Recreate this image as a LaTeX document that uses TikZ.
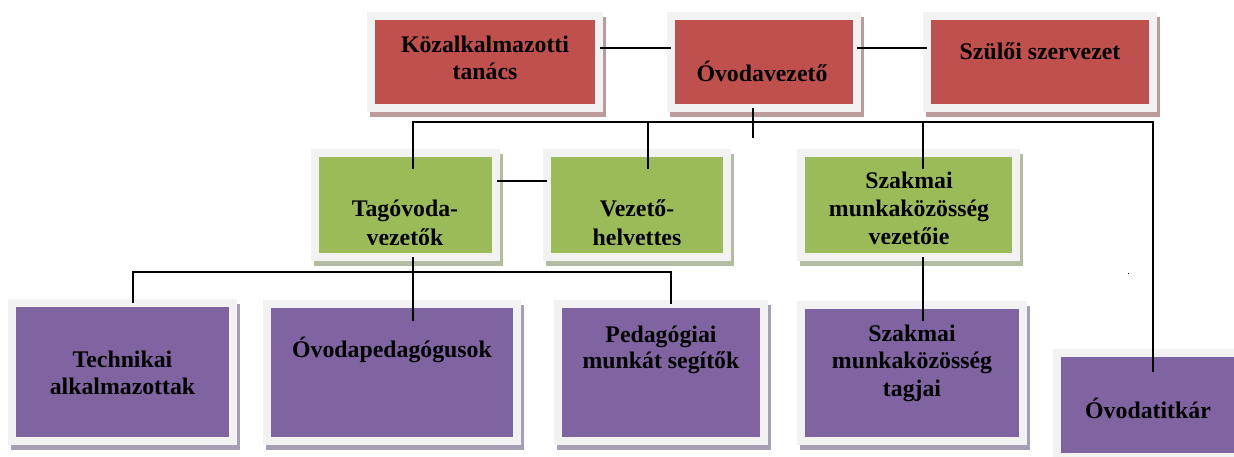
\documentclass[tikz,border=0pt]{standalone}
\usepackage{fontspec}
\setmainfont{Liberation Serif}
\usetikzlibrary{calc}
\definecolor{redfill}{RGB}{192,80,77}
\definecolor{greenfill}{RGB}{155,187,89}
\definecolor{purplefill}{RGB}{128,100,162}
\definecolor{framecol}{RGB}{242,242,242}
\definecolor{redsh}{RGB}{190,155,155}
\definecolor{greensh}{RGB}{178,188,160}
\definecolor{purplesh}{RGB}{165,158,180}
\tikzset{
  boxnode/.style={inner sep=0pt, outer sep=0pt, draw=none},
  conn/.style={line width=1.8pt, black},
  lbl/.style={anchor=base, inner sep=0pt, outer sep=0pt, font=\bfseries\fontsize{23.8}{27.5}\selectfont},
}
% name, x1, y1, x2, y2, fill, shadow
\newcommand\orgbox[7]{%
  \fill[#7] (#2-5,#3-3) rectangle (#4+11,#5+13);
  \fill[framecol] (#2-8,#3-8) rectangle (#4+8,#5+8);
  \node[boxnode, fill=#6, minimum width={((#4)-(#2))*1pt}, minimum height={((#5)-(#3))*1pt}] (#1) at ({((#2)+(#4))/2},{((#3)+(#5))/2}) {};
}
\begin{document}
\begin{tikzpicture}[x=1pt,y=-1pt]
\useasboundingbox (0,0) rectangle (1234,457);
\begin{scope}
\clip (0,0) rectangle (1234,457);
% top row
\orgbox{koz}{375}{20}{595}{104}{redfill}{redsh}
\orgbox{ovez}{675}{20}{853}{104}{redfill}{redsh}
\orgbox{szul}{931}{20}{1149}{104}{redfill}{redsh}
% middle row
\orgbox{tag}{319}{157}{492}{253}{greenfill}{greensh}
\orgbox{vez}{551}{157}{723}{253}{greenfill}{greensh}
\orgbox{szv}{805}{157}{1012}{253}{greenfill}{greensh}
% bottom row
\orgbox{tech}{16}{307}{229}{437}{purplefill}{purplesh}
\orgbox{opd}{271}{308}{513}{437}{purplefill}{purplesh}
\orgbox{ped}{562}{308}{760}{437}{purplefill}{purplesh}
\orgbox{szt}{805}{309}{1019}{437}{purplefill}{purplesh}
\orgbox{titk}{1061}{357}{1235}{453}{purplefill}{purplesh}
\end{scope}

% texts
\node[lbl] (koz-t1) at (485,53) {Közalkalmazotti};
\node[lbl] (koz-t2) at (485,80) {tanács};
\node[lbl] (ovez-t) at (762,82) {Óvodavezető};
\node[lbl] (szul-t) at (1040,60) {Szülői szervezet};
\node[lbl] (tag-t1) at (405,217) {Tagóvoda-};
\node[lbl] (vez-t1) at (637,217) {Vezető-};
\begin{scope}
\clip (300,150) rectangle (740,244);
\node[lbl] (tag-t2) at (405,245.5) {vezetők};
\node[lbl] (vez-t2) at (637,245.5) {helvettes};
\end{scope}
\node[lbl] (szv-t1) at (909,189) {Szakmai};
\node[lbl] (szv-t2) at (909,216.5) {munkaközösség};
\node[lbl] (szv-t3) at (909,244) {vezetőie};
\node[lbl] (szt-t1) at (912,341) {Szakmai};
\node[lbl] (szt-t2) at (912,368.5) {munkaközösség};
\node[lbl] (szt-t3) at (912,396) {tagjai};
\node[lbl] (tech-t1) at (122.5,367) {Technikai};
\node[lbl] (tech-t2) at (122.5,394) {alkalmazottak};
\node[lbl] (opd-t) at (392,357) {Óvodapedagógusok};
\node[lbl] (ped-t1) at (661,342) {Pedagógiai};
\node[lbl] (ped-t2) at (661,368) {munkát segítők};
\node[lbl] (titk-t) at (1148,418) {Óvodatitkár};

% connectors, top row
\draw[conn] ([xshift=5pt,yshift=14pt]koz.east) -- ([xshift=-4pt,yshift=14pt]ovez.west);
\draw[conn] ([xshift=4pt,yshift=14pt]ovez.east) -- ([xshift=-4pt,yshift=14pt]szul.west);
\draw[conn] ([xshift=-11pt,yshift=-4pt]ovez.south) -- ++(0,30);

% main bus
\coordinate (bus) at (0,122);
\coordinate (tagin) at ([xshift=7.5pt,yshift=-12pt]tag.north);
\coordinate (vezin) at ([xshift=11pt,yshift=-12pt]vez.north);
\coordinate (szvin) at ([xshift=14.5pt,yshift=-12pt]szv.north);
\coordinate (titkin) at ([xshift=5pt,yshift=-15pt]titk.north);
\draw[conn] (tagin) -- (tagin |- bus) -- (titkin |- bus) -- (titkin);
\draw[conn] (vezin) -- (vezin |- bus);
\draw[conn] (szvin) -- (szvin |- bus);

% middle row
\draw[conn] ([xshift=5pt,yshift=24pt]tag.east) -- ([xshift=-4pt,yshift=24pt]vez.west);

% lower bus
\coordinate (bus2) at (0,272);
\coordinate (techtop) at ([xshift=10.5pt,yshift=4pt]tech.north);
\coordinate (pedtop) at ([xshift=10pt,yshift=4pt]ped.north);
\draw[conn] (techtop) -- (techtop |- bus2) -- (pedtop |- bus2) -- (pedtop);
\draw[conn] ([xshift=7.5pt,yshift=-4pt]tag.south) -- ([xshift=21pt,yshift=-13pt]opd.north);
\draw[conn] ([xshift=14.5pt,yshift=-4pt]szv.south) -- ([xshift=11pt,yshift=-12pt]szt.north);

% stray dot
\fill[black] (1127.5,272.5) rectangle (1129,274);
\end{tikzpicture}
\end{document}
